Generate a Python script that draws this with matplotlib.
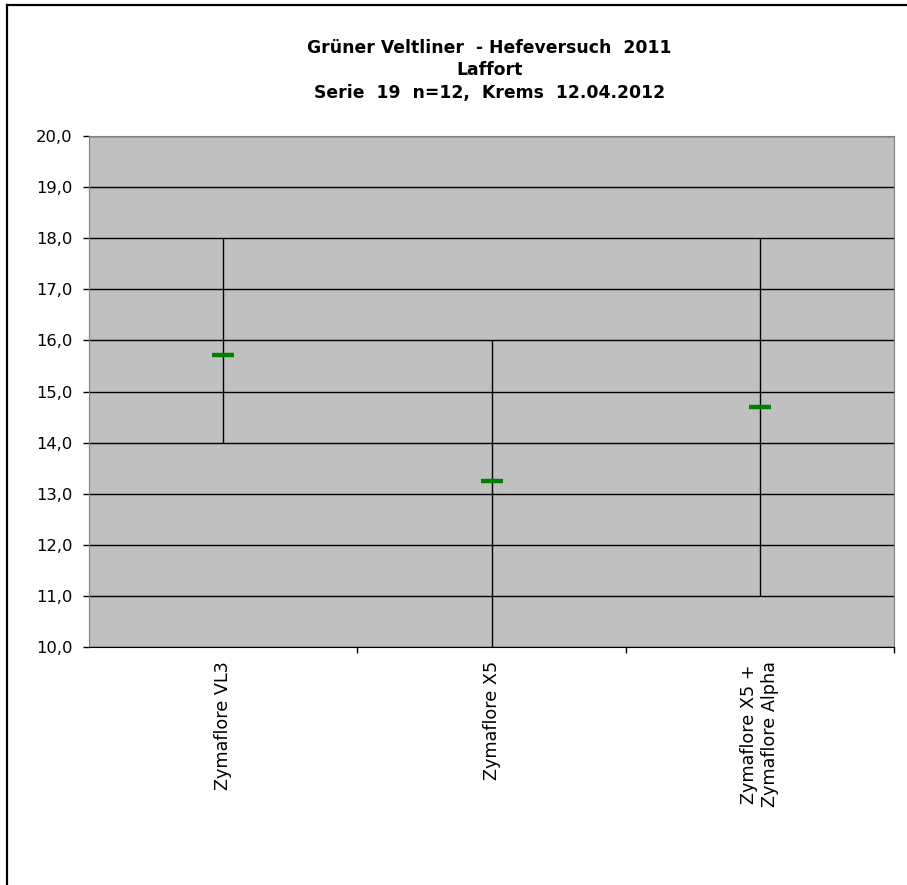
import matplotlib.pyplot as plt
from matplotlib.lines import Line2D
from matplotlib.ticker import FuncFormatter, FixedLocator

plt.rcParams['font.family'] = ['DejaVu Sans']

# Data
categories = ["Zymaflore VL3", "Zymaflore X5", "Zymaflore X5 +\nZymaflore Alpha"]
high = [18.0, 16.0, 18.0]
low = [14.0, 10.0, 11.0]
close = [15.72, 13.25, 14.7]

fig = plt.figure(figsize=(9.07, 8.85), dpi=100)
ax = fig.add_axes([0.0981, 0.2689, 0.8876, 0.5774])
ax.set_facecolor('#C0C0C0')

x = list(range(len(categories)))

# High-low lines and close markers
ax.vlines(x, low, high, color='black', linewidth=1, zorder=3)
ax.plot(x, close, linestyle='none', marker='_', markersize=16,
        markeredgewidth=3.2, color='#008000', zorder=4)

ax.set_xlim(-0.5, len(categories) - 0.5)
ax.set_ylim(10, 20)
ax.set_yticks([10 + i for i in range(11)])
ax.yaxis.set_major_formatter(FuncFormatter(lambda v, p: f"{v:.1f}".replace('.', ',')))
ax.grid(axis='y', color='black', linewidth=1)
ax.set_axisbelow(True)

# Category labels, ticks at the boundaries
ax.set_xticks(x)
ax.set_xticklabels(categories, rotation=90, fontsize=12.7, va='top', ha='center',
                   linespacing=1.2)
ax.xaxis.set_minor_locator(FixedLocator([0.5, 1.5, 2.5]))
ax.tick_params(axis='x', which='major', length=0, pad=10)
ax.tick_params(axis='x', which='minor', length=4, width=1, direction='out')
ax.tick_params(axis='y', labelsize=11.8, length=4, width=1, direction='out', pad=8)

for side in ['left', 'right', 'top']:
    ax.spines[side].set_color('#808080')
ax.spines['bottom'].set_color('black')

# Title
fig.text(0.5395, 0.946, "Grüner Veltliner  - Hefeversuch  2011", ha='center', va='center',
         fontsize=12.4, fontweight='bold')
fig.text(0.5395, 0.921, "Laffort", ha='center', va='center', fontsize=12.4, fontweight='bold')
fig.text(0.5395, 0.895, "Serie  19  n=12,  Krems  12.04.2012", ha='center', va='center',
         fontsize=12.4, fontweight='bold')

# Outer frame (top and left edges)
fig.add_artist(Line2D([0.0075, 1.0], [0.9943, 0.9943], color='black', linewidth=1.6,
                      transform=fig.transFigure))
fig.add_artist(Line2D([0.0075, 0.0075], [0.0, 0.9943], color='black', linewidth=1.6,
                      transform=fig.transFigure))

fig.savefig('out.png', dpi=100)
